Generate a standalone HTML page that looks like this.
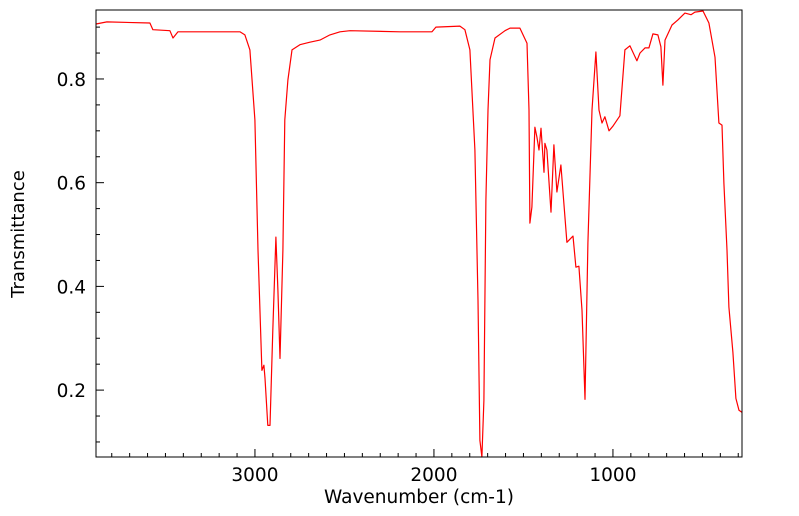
<!DOCTYPE html>
<html><head><meta charset="utf-8"><style>
html,body{margin:0;padding:0;background:#fff;width:799px;height:516px;overflow:hidden}
svg{display:block}
text{font-family:"DejaVu Sans","Liberation Sans",sans-serif;fill:#000}
</style></head><body>
<svg id="chart" width="799" height="516" viewBox="0 0 799 516">
<g id="ticks"></g>
<path id="line" fill="none" stroke="#ff0000" stroke-width="1.2" stroke-linejoin="round"></path>
<rect x="96" y="10" width="646" height="447" fill="none" stroke="#000" stroke-width="1"></rect>
<text x="419" y="503" font-size="18.5" text-anchor="middle">Wavenumber (cm-1)</text>
<text x="24" y="234" font-size="18" text-anchor="middle" transform="rotate(-90 24 234)">Transmittance</text>
</svg>
<script>
const wavenumbers=[3888,3827,3587,3570,3475,3458,3430,3084,3056,3028,3000,2983,2961,2950,2944,2928,2916,2900,2883,2872,2860,2844,2833,2816,2793,2749,2693,2637,2581,2525,2469,2190,2011,1989,1855,1827,1799,1771,1754,1743,1732,1721,1710,1698,1687,1659,1603,1575,1520,1480,1469,1464,1453,1436,1425,1413,1402,1385,1380,1369,1346,1330,1313,1291,1257,1223,1207,1190,1173,1156,1140,1117,1095,1078,1061,1045,1022,1000,961,933,905,866,849,821,799,777,749,732,721,709,670,637,598,564,542,497,464,430,408,391,380,363,352,330,313,296,279];
const transmittance=[0.906,0.910,0.908,0.895,0.893,0.879,0.891,0.891,0.885,0.856,0.721,0.470,0.238,0.248,0.223,0.132,0.132,0.315,0.495,0.393,0.261,0.470,0.721,0.798,0.856,0.866,0.871,0.875,0.885,0.891,0.893,0.891,0.891,0.900,0.902,0.895,0.856,0.663,0.373,0.103,0.064,0.180,0.566,0.740,0.837,0.879,0.893,0.898,0.898,0.869,0.740,0.522,0.553,0.707,0.688,0.663,0.705,0.620,0.676,0.663,0.543,0.673,0.582,0.634,0.485,0.497,0.437,0.439,0.354,0.182,0.483,0.740,0.852,0.740,0.715,0.727,0.700,0.709,0.729,0.856,0.864,0.835,0.850,0.860,0.860,0.887,0.885,0.862,0.788,0.875,0.904,0.914,0.927,0.924,0.929,0.931,0.908,0.842,0.715,0.711,0.599,0.470,0.360,0.273,0.184,0.161,0.157];
const xTickLabels=[3000,2000,1000];
const yTickLabels=[0.2,0.4,0.6,0.8];
const X0=96,X1=742,Y0=10,Y1=457,WMAX=3888,WMIN=279,TMAX=0.933,TMIN=0.071;
const xs=w=>X0+(WMAX-w)/(WMAX-WMIN)*(X1-X0);
const ys=t=>Y0+(TMAX-t)/(TMAX-TMIN)*(Y1-Y0);
const NS='http://www.w3.org/2000/svg';
let d='';
for(let i=0;i<wavenumbers.length;i++){d+=(i?'L':'M')+xs(wavenumbers[i]).toFixed(1)+','+Math.min(Y1,ys(transmittance[i])).toFixed(1);}
document.getElementById('line').setAttribute('d',d);
const g=document.getElementById('ticks');
function ln(x1,y1,x2,y2){const l=document.createElementNS(NS,'line');l.setAttribute('x1',x1);l.setAttribute('y1',y1);l.setAttribute('x2',x2);l.setAttribute('y2',y2);l.setAttribute('stroke','#000');


g.appendChild(l);}
for(let w=300;w<=3800;w+=100){const x=xs(w);ln(x,Y1,x,Y1-(w%1000===0?8:4));}
for(let k=2;k<=18;k++){const t=k*0.05;const y=ys(t);if(y<Y0||y>Y1)continue;ln(X0,y,X0+(k%4===0?8:4),y);}
xTickLabels.forEach(v=>{const t=document.createElementNS(NS,'text');t.setAttribute('x',xs(v));t.setAttribute('y',481);t.setAttribute('font-size','18.5');t.setAttribute('text-anchor','middle');t.textContent=v;


g.appendChild(t);});
yTickLabels.forEach(v=>{const t=document.createElementNS(NS,'text');t.setAttribute('x',86);t.setAttribute('y',ys(v)+7);t.setAttribute('font-size','18.5');t.setAttribute('text-anchor','end');t.textContent=v.toFixed(1);


g.appendChild(t);});
</script>
</body></html>
